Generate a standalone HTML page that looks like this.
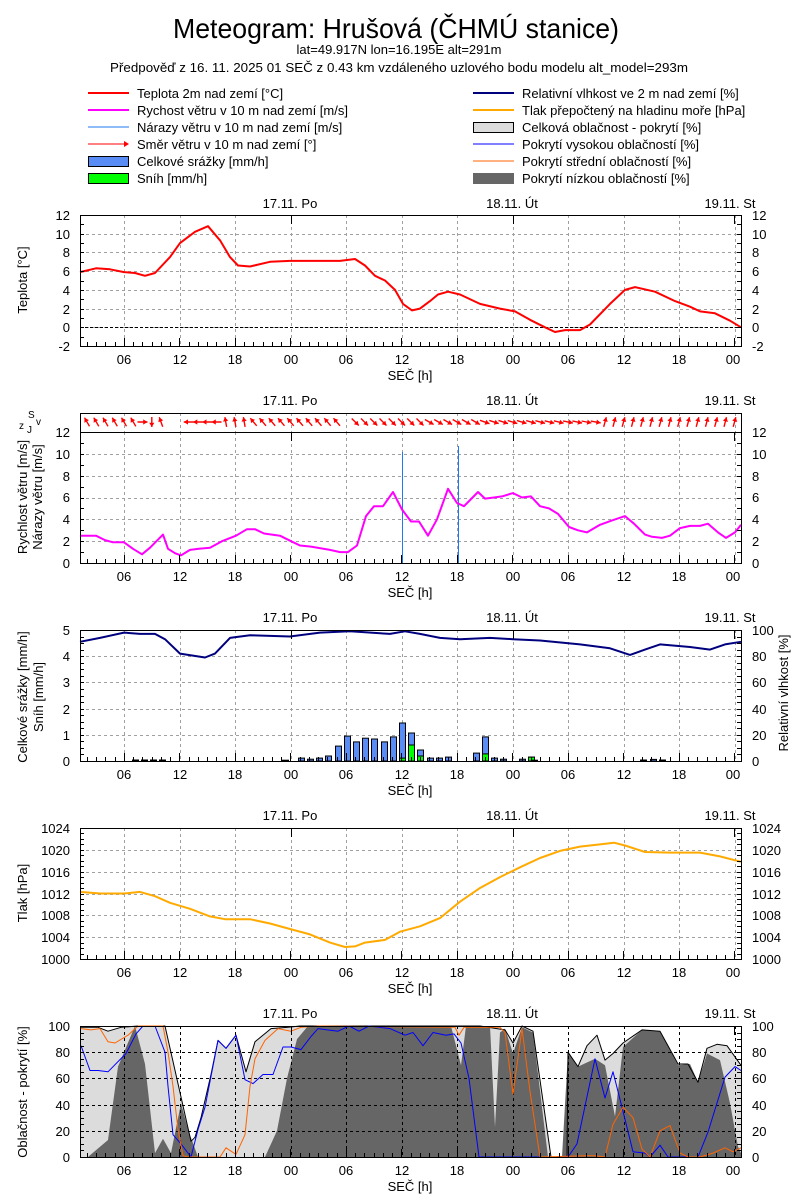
<!DOCTYPE html>
<html><head><meta charset="utf-8"><style>
html,body{margin:0;padding:0;background:#fff;}
svg{display:block;font-family:"Liberation Sans",sans-serif;}
text{fill:#000;}
</style></head><body>
<svg id="s" width="800" height="1200" viewBox="0 0 800 1200" xmlns="http://www.w3.org/2000/svg">
<rect width="800" height="1200" fill="#fff"/>
<g id="g"></g>
<g font-size="28" text-anchor="middle"><text x="396" y="38" textLength="446" lengthAdjust="spacingAndGlyphs">Meteogram: Hrušová (ČHMÚ stanice)</text></g>
<g font-size="13" text-anchor="middle">
<text x="399" y="54">lat=49.917N lon=16.195E alt=291m</text>
<text x="399" y="72" textLength="578" lengthAdjust="spacingAndGlyphs">Předpověď z 16. 11. 2025 01 SEČ z 0.43 km vzdáleného uzlového bodu modelu alt_model=293m</text>
</g>
<g font-size="13">
<text x="137" y="98">Teplota 2m nad zemí [°C]</text>
<text x="137" y="115">Rychost větru v 10 m nad zemí [m/s]</text>
<text x="137" y="132">Nárazy větru v 10 m nad zemí [m/s]</text>
<text x="137" y="149">Směr větru v 10 m nad zemí [°]</text>
<text x="137" y="166">Celkové srážky [mm/h]</text>
<text x="137" y="183">Sníh [mm/h]</text>
<text x="522" y="98">Relativní vlhkost ve 2 m nad zemí [%]</text>
<text x="522" y="115">Tlak přepočtený na hladinu moře [hPa]</text>
<text x="522" y="132">Celková oblačnost - pokrytí [%]</text>
<text x="522" y="149">Pokrytí vysokou oblačností [%]</text>
<text x="522" y="166">Pokrytí střední oblačností [%]</text>
<text x="522" y="183">Pokrytí nízkou oblačností [%]</text>
</g>
<g>
<line x1="88" y1="93" x2="129" y2="93" stroke="#f00" stroke-width="2"/>
<line x1="88" y1="110" x2="129" y2="110" stroke="#f0f" stroke-width="2"/>
<line x1="88" y1="127" x2="129" y2="127" stroke="#1e78f0" stroke-width="1"/>
<line x1="88" y1="144" x2="127" y2="144" stroke="#f00" stroke-width="1"/>
<path d="M124 141 L129 144 L124 147Z" fill="#f00"/>
<rect x="88.5" y="156.5" width="40" height="10" fill="#5a8cf5" stroke="#000"/>
<rect x="88.5" y="173.5" width="40" height="10" fill="#0f0" stroke="#000"/>
<line x1="473" y1="93" x2="514" y2="93" stroke="#00007f" stroke-width="2"/>
<line x1="473" y1="110" x2="514" y2="110" stroke="#ffaa00" stroke-width="2"/>
<rect x="473.5" y="122.5" width="40" height="10" fill="#dcdcdc" stroke="#000"/>
<line x1="473" y1="144" x2="514" y2="144" stroke="#00f" stroke-width="1"/>
<line x1="473" y1="161" x2="514" y2="161" stroke="#ff6400" stroke-width="1"/>
<rect x="473" y="173" width="41" height="11" fill="#666"/>
</g>

<g font-size="13" text-anchor="middle">
<text x="290" y="208">17.11. Po</text><text x="512" y="208">18.11. Út</text><text x="730" y="208">19.11. St</text>
<text x="290" y="405">17.11. Po</text><text x="512" y="405">18.11. Út</text><text x="730" y="405">19.11. St</text>
<text x="290" y="622">17.11. Po</text><text x="512" y="622">18.11. Út</text><text x="730" y="622">19.11. St</text>
<text x="290" y="820">17.11. Po</text><text x="512" y="820">18.11. Út</text><text x="730" y="820">19.11. St</text>
<text x="290" y="1018">17.11. Po</text><text x="512" y="1018">18.11. Út</text><text x="730" y="1018">19.11. St</text>
<text x="410" y="380">SEČ [h]</text><text x="410" y="597">SEČ [h]</text><text x="410" y="795">SEČ [h]</text><text x="410" y="993">SEČ [h]</text><text x="410" y="1191">SEČ [h]</text>
</g>
<g font-size="13" text-anchor="middle">
<text transform="translate(27,280) rotate(-90)">Teplota [°C]</text>
<text transform="translate(27,497) rotate(-90)">Rychlost větru [m/s]</text>
<text transform="translate(42,497) rotate(-90)">Nárazy větru [m/s]</text>
<text transform="translate(27,697) rotate(-90)">Celkové srážky [mm/h]</text>
<text transform="translate(43,697) rotate(-90)">Sníh [mm/h]</text>
<text transform="translate(788,693) rotate(-90)">Relativní vlhkost [%]</text>
<text transform="translate(27,893) rotate(-90)">Tlak [hPa]</text>
<text transform="translate(27,1092) rotate(-90)">Oblačnost - pokrytí [%]</text>
</g>
<g font-size="10"><text x="19" y="429">z</text><text x="28" y="418">S</text><text x="27" y="433">J</text><text x="36" y="425">v</text></g>
<g font-size="13" id="labels">
<g text-anchor="middle">
<text x="124" y="364">06</text><text x="180" y="364">12</text><text x="235" y="364">18</text><text x="291" y="364">00</text><text x="346" y="364">06</text><text x="402" y="364">12</text><text x="457" y="364">18</text><text x="513" y="364">00</text><text x="568" y="364">06</text><text x="624" y="364">12</text><text x="679" y="364">18</text><text x="733" y="364">00</text>
<text x="124" y="581">06</text><text x="180" y="581">12</text><text x="235" y="581">18</text><text x="291" y="581">00</text><text x="346" y="581">06</text><text x="402" y="581">12</text><text x="457" y="581">18</text><text x="513" y="581">00</text><text x="568" y="581">06</text><text x="624" y="581">12</text><text x="679" y="581">18</text><text x="733" y="581">00</text>
<text x="124" y="779">06</text><text x="180" y="779">12</text><text x="235" y="779">18</text><text x="291" y="779">00</text><text x="346" y="779">06</text><text x="402" y="779">12</text><text x="457" y="779">18</text><text x="513" y="779">00</text><text x="568" y="779">06</text><text x="624" y="779">12</text><text x="679" y="779">18</text><text x="733" y="779">00</text>
<text x="124" y="977">06</text><text x="180" y="977">12</text><text x="235" y="977">18</text><text x="291" y="977">00</text><text x="346" y="977">06</text><text x="402" y="977">12</text><text x="457" y="977">18</text><text x="513" y="977">00</text><text x="568" y="977">06</text><text x="624" y="977">12</text><text x="679" y="977">18</text><text x="733" y="977">00</text>
<text x="124" y="1175">06</text><text x="180" y="1175">12</text><text x="235" y="1175">18</text><text x="291" y="1175">00</text><text x="346" y="1175">06</text><text x="402" y="1175">12</text><text x="457" y="1175">18</text><text x="513" y="1175">00</text><text x="568" y="1175">06</text><text x="624" y="1175">12</text><text x="679" y="1175">18</text><text x="733" y="1175">00</text>
</g>
<g text-anchor="end">
<text x="70" y="220">12</text><text x="70" y="239">10</text><text x="70" y="257">8</text><text x="70" y="276">6</text><text x="70" y="295">4</text><text x="70" y="314">2</text><text x="70" y="332">0</text><text x="70" y="351">-2</text>
<text x="70" y="437">12</text><text x="70" y="459">10</text><text x="70" y="481">8</text><text x="70" y="502">6</text><text x="70" y="524">4</text><text x="70" y="546">2</text><text x="70" y="568">0</text>
<text x="70" y="635">5</text><text x="70" y="661">4</text><text x="70" y="687">3</text><text x="70" y="714">2</text><text x="70" y="740">1</text><text x="70" y="766">0</text>
<text x="70" y="833">1024</text><text x="70" y="855">1020</text><text x="70" y="877">1016</text><text x="70" y="899">1012</text><text x="70" y="920">1008</text><text x="70" y="942">1004</text><text x="70" y="964">1000</text>
<text x="70" y="1031">100</text><text x="70" y="1057">80</text><text x="70" y="1083">60</text><text x="70" y="1110">40</text><text x="70" y="1136">20</text><text x="70" y="1162">0</text>
</g>
<g text-anchor="start">
<text x="752" y="220">12</text><text x="752" y="239">10</text><text x="752" y="257">8</text><text x="752" y="276">6</text><text x="752" y="295">4</text><text x="752" y="314">2</text><text x="752" y="332">0</text><text x="752" y="351">-2</text>
<text x="752" y="437">12</text><text x="752" y="459">10</text><text x="752" y="481">8</text><text x="752" y="502">6</text><text x="752" y="524">4</text><text x="752" y="546">2</text><text x="752" y="568">0</text>
<text x="752" y="635">100</text><text x="752" y="661">80</text><text x="752" y="687">60</text><text x="752" y="714">40</text><text x="752" y="740">20</text><text x="752" y="766">0</text>
<text x="752" y="833">1024</text><text x="752" y="855">1020</text><text x="752" y="877">1016</text><text x="752" y="899">1012</text><text x="752" y="920">1008</text><text x="752" y="942">1004</text><text x="752" y="964">1000</text>
<text x="752" y="1031">100</text><text x="752" y="1057">80</text><text x="752" y="1083">60</text><text x="752" y="1110">40</text><text x="752" y="1136">20</text><text x="752" y="1162">0</text>
</g>
</g>
</svg>
<script>
var NS="http://www.w3.org/2000/svg",G=document.getElementById("g");
function el(t,a){var e=document.createElementNS(NS,t);for(var k in a)e.setAttribute(k,a[k]);G.appendChild(e);return e;}
var X0=80,X1=741,VX=[124,180,235,291,346,402,457,513,568,624,679,735],DAYS=[291,513,734];
function mk(top,bot,vmin,vmax){return function(v){return bot-(v-vmin)*(bot-top)/(vmax-vmin);};}
function grid(top,bot,vmin,vmax,step,col){
  var f=mk(top,bot,vmin,vmax);
  for(var v=vmin+step;v<vmax-1e-9;v+=step){var y=Math.round(f(v))+.5;el("line",{x1:X0,x2:X1,y1:y,y2:y,stroke:col,"stroke-dasharray":"3,3"});}
  VX.forEach(function(x){el("line",{x1:x+.5,x2:x+.5,y1:top,y2:bot,stroke:col,"stroke-dasharray":"3,3"});});
}
function frame(top,bot,vmin,vmax,mstep){
  var f=mk(top,bot,vmin,vmax),d="";
  for(var h=0;h<80;h++){var x=X0+(h-1.25)*9.25;if(x<X0||x>X1)continue;x=Math.round(x)+.5;
    var L=VX.some(function(q){return Math.abs(q-x)<1.5})?8:4;
    d+="M"+x+" "+bot+"v-"+L;}
  for(var v=vmin;v<=vmax+1e-9;v+=mstep){var y=Math.round(f(v))+.5;d+="M"+X0+" "+y+"h4M"+X1+" "+y+"h-4";}
  DAYS.forEach(function(x){d+="M"+(x+.5)+" "+top+"v9";});
  el("path",{d:d,stroke:"#000",fill:"none"});
  el("rect",{x:X0+.5,y:top+.5,width:X1-X0,height:bot-top,fill:"none",stroke:"#000"});
}
function line(pts,f,col,w){var d="";pts.forEach(function(p,i){d+=(i?"L":"M")+p[0]+" "+f(p[1]).toFixed(1);});el("path",{d:d,stroke:col,"stroke-width":w,fill:"none","stroke-linejoin":"round"});}
function area(pts,f,col){var b=f(0),d="M"+pts[0][0]+" "+b;pts.forEach(function(p){d+="L"+p[0]+" "+f(p[1]).toFixed(1);});d+="L"+pts[pts.length-1][0]+" "+b+"Z";el("path",{d:d,fill:col,stroke:"none"});}

var f1=mk(215,346,-2,12);
grid(215,346,-2,12,2,"#a0a0a0");
el("line",{x1:X0,x2:X1,y1:Math.round(f1(0))+.5,y2:Math.round(f1(0))+.5,stroke:"#000","stroke-dasharray":"3,2"});
line([[80,5.9],[96,6.3],[110,6.2],[124,5.9],[135,5.8],[145,5.5],[155,5.8],[170,7.5],[180,9.0],[195,10.2],[208,10.8],[220,9.3],[230,7.5],[238,6.6],[250,6.5],[270,7.0],[290,7.1],[340,7.1],[355,7.3],[365,6.6],[375,5.5],[385,5.0],[395,4.0],[403,2.5],[412,1.8],[420,2.0],[430,2.8],[438,3.5],[448,3.8],[460,3.5],[480,2.5],[500,2.0],[515,1.7],[530,0.8],[545,0.0],[555,-0.5],[565,-0.3],[580,-0.3],[590,0.3],[610,2.5],[625,4.0],[635,4.3],[655,3.8],[675,2.8],[690,2.2],[700,1.7],[715,1.5],[730,0.7],[741,0.0]],f1,"#f00",2);
frame(215,346,-2,12,1);

var f2=mk(432,563,0,12);
grid(432,563,0,12,2,"#a0a0a0");
VX.forEach(function(x){el("line",{x1:x+.5,x2:x+.5,y1:413,y2:432,stroke:"#a0a0a0","stroke-dasharray":"3,3"});});
el("line",{x1:402.5,x2:402.5,y1:452,y2:563,stroke:"#1e78f0"});
el("line",{x1:458.5,x2:458.5,y1:446,y2:563,stroke:"#1e78f0"});
line([[80,2.5],[96,2.5],[105,2.1],[113,1.9],[124,1.9],[133,1.3],[142,0.8],[150,1.4],[163,2.6],[168,1.3],[175,0.9],[181,0.7],[190,1.2],[199,1.3],[210,1.4],[222,2.0],[236,2.5],[247,3.1],[255,3.1],[264,2.7],[280,2.5],[291,2.0],[300,1.6],[311,1.5],[330,1.2],[340,1.0],[348,1.0],[357,1.6],[366,4.3],[374,5.2],[383,5.2],[393,6.5],[402,4.9],[411,3.8],[419,3.8],[428,2.5],[437,4.0],[448,6.8],[457,5.5],[464,5.2],[478,6.5],[485,5.9],[494,6.0],[502,6.1],[513,6.4],[522,6.0],[531,6.1],[540,5.2],[549,5.0],[558,4.5],[569,3.3],[578,3.0],[587,2.8],[600,3.5],[612,3.9],[625,4.3],[634,3.6],[645,2.6],[652,2.4],[662,2.3],[670,2.5],[680,3.2],[690,3.4],[700,3.4],[708,3.6],[718,2.8],[726,2.3],[735,2.8],[741,3.5]],f2,"#f0f",2);
frame(432,563,0,12,1);
el("rect",{x:80.5,y:413.5,width:661,height:19,fill:"none",stroke:"#000"});
(function(){
  function dir(x){
    if(x<138)return -120; if(x<146)return 0; if(x<150)return 90; if(x<180)return -110;
    if(x<218)return 180; if(x<245)return -100; if(x<345)return -130;
    if(x<420)return 45; if(x<480)return 30; if(x<600)return 10+(600-x)/12; return -75;}
  var d="",h="";
  for(var x=84;x<740;x+=9.25){
    if((x>158&&x<178)||(x>225&&x<232)||(x>335&&x<352))continue;
    var a=dir(x)*Math.PI/180,cx=x+3,cy=422,L=10;
    var tx=cx-Math.cos(a)*L/2,ty=cy-Math.sin(a)*L/2,px=cx+Math.cos(a)*L/2,py=cy+Math.sin(a)*L/2;
    d+="M"+tx.toFixed(1)+" "+ty.toFixed(1)+"L"+px.toFixed(1)+" "+py.toFixed(1);
    var b1=a+2.6,b2=a-2.6;
    h+="M"+px.toFixed(1)+" "+py.toFixed(1)+"L"+(px+Math.cos(b1)*5).toFixed(1)+" "+(py+Math.sin(b1)*5).toFixed(1)+"L"+(px+Math.cos(b2)*5).toFixed(1)+" "+(py+Math.sin(b2)*5).toFixed(1)+"Z";
  }
  el("path",{d:d,stroke:"#f00","stroke-width":1.4,fill:"none"});
  el("path",{d:h,fill:"#f00"});
})();

var f3=mk(630,761,0,5),f3r=mk(630,761,0,100);
grid(630,761,0,5,1,"#a0a0a0");
[[298,0.11],[307,0.07],[316,0.11],[325,0.19],[335,0.57],[344,0.95],[353,0.73],[362,0.87],[371,0.84],[381,0.73],[390,0.92],[399,1.45,0.11],[408,1.07,0.61],[417,0.42,0.19],[427,0.11],[436,0.11],[445,0.15],[473,0.3],[482,0.92,0.27],[491,0.11],[500,0.07],[519,0.07],[528,0.15,0.15],
 [132,0.04],[141,0.04],[150,0.04],[159,0.04],[640,0.04],[650,0.06],[659,0.04],[282,0.03],[531,0.03]].forEach(function(b){
  var y=f3(b[1]);el("rect",{x:b[0]+.5,y:y.toFixed(1),width:6,height:(761-y).toFixed(1),fill:"#5a8cf5",stroke:"#000"});
  if(b[2]){var y2=f3(b[2]);el("rect",{x:b[0]+.5,y:y2.toFixed(1),width:6,height:(761-y2).toFixed(1),fill:"#0f0",stroke:"#000"});}
});
line([[80,91],[100,94],[124,98],[140,97],[155,97],[165,93],[180,82],[205,79],[215,82],[230,94],[250,96],[290,95],[320,98],[350,99],[390,97],[405,99],[420,97],[440,94],[460,93],[490,94],[513,93],[540,92],[580,89],[610,86],[630,81],[645,85],[660,89],[690,87],[710,85],[725,89],[741,91]],f3r,"#00007f",2);
frame(630,761,0,5,0.25);

var f4=mk(828,959,1000,1024);
grid(828,959,1000,1024,4,"#a0a0a0");
line([[80,1012.3],[100,1012.0],[124,1012.0],[140,1012.3],[155,1011.5],[170,1010.3],[190,1009.2],[210,1007.8],[225,1007.3],[250,1007.3],[270,1006.5],[290,1005.5],[310,1004.5],[330,1003.0],[345,1002.2],[355,1002.3],[365,1003.0],[385,1003.5],[400,1005.0],[420,1006.0],[440,1007.5],[460,1010.5],[480,1013.0],[500,1015.0],[520,1016.8],[540,1018.5],[560,1019.8],[580,1020.6],[600,1021.0],[614,1021.3],[625,1020.8],[645,1019.6],[670,1019.5],[700,1019.5],[720,1018.8],[741,1017.8]],f4,"#ffaa00",2);
frame(828,959,1000,1024,1);

var f5=mk(1026,1157,0,100);
var tot=[[81,99],[98,99],[108,96],[121,99],[138,100],[165,100],[191,12],[195,15],[201,30],[211,63],[218,89],[226,83],[236,93],[246,65],[255,88],[271,98],[288,99],[300,100],[459,100],[480,100],[505,97],[513,87],[522,100],[533,96],[551,0],[567,0],[568,80],[578,69],[587,85],[597,93],[605,74],[613,79],[623,87],[642,97],[660,96],[678,71],[688,71],[698,57],[707,83],[717,86],[727,85],[741,70]];
var low=[[81,0],[88,0],[91,2],[108,13],[118,69],[135,100],[145,71],[155,3],[163,14],[171,3],[181,41],[188,21],[198,0],[265,0],[277,20],[287,60],[297,90],[308,100],[451,100],[461,70],[466,100],[490,100],[495,23],[500,95],[505,98],[513,79],[522,99],[533,95],[548,0],[562,0],[568,80],[578,69],[595,75],[605,70],[615,31],[623,84],[642,97],[660,96],[678,70],[690,71],[698,57],[707,79],[720,74],[730,41],[738,8],[741,3]];
area(tot,f5,"#dcdcdc");
area(low,f5,"#666");
grid(1026,1157,0,100,20,"#000");
line(tot,f5,"#000",1);
line([[81,85],[90,66],[98,66],[108,65],[126,79],[136,94],[143,100],[155,100],[165,80],[168,54],[173,17],[181,10],[191,0],[198,21],[205,38],[218,89],[226,83],[236,93],[245,59],[253,56],[263,63],[273,63],[283,84],[291,84],[301,82],[311,92],[318,98],[338,96],[349,100],[359,96],[369,100],[390,98],[405,93],[413,95],[423,85],[433,95],[446,93],[454,94],[461,87],[469,60],[474,30],[479,0],[568,0],[577,10],[595,75],[605,45],[613,65],[623,35],[633,4],[645,3],[650,0],[660,9],[668,0],[698,0],[708,19],[725,61],[735,69],[741,66]],f5,"#00f",1);
line([[81,98],[91,97],[100,98],[108,88],[115,87],[128,93],[138,100],[163,100],[168,80],[173,54],[178,21],[183,1],[188,0],[220,0],[226,7],[236,2],[245,17],[250,54],[255,75],[265,89],[278,98],[291,96],[301,99],[320,100],[455,99],[459,93],[464,99],[500,99],[505,95],[513,48],[522,98],[530,50],[535,25],[540,0],[587,1],[595,1],[605,0],[613,25],[623,38],[633,30],[642,6],[650,0],[660,20],[670,24],[680,3],[688,0],[700,0],[713,3],[725,7],[733,4],[741,7]],f5,"#ff6400",1);
frame(1026,1157,0,100,5);
</script>
</body></html>
